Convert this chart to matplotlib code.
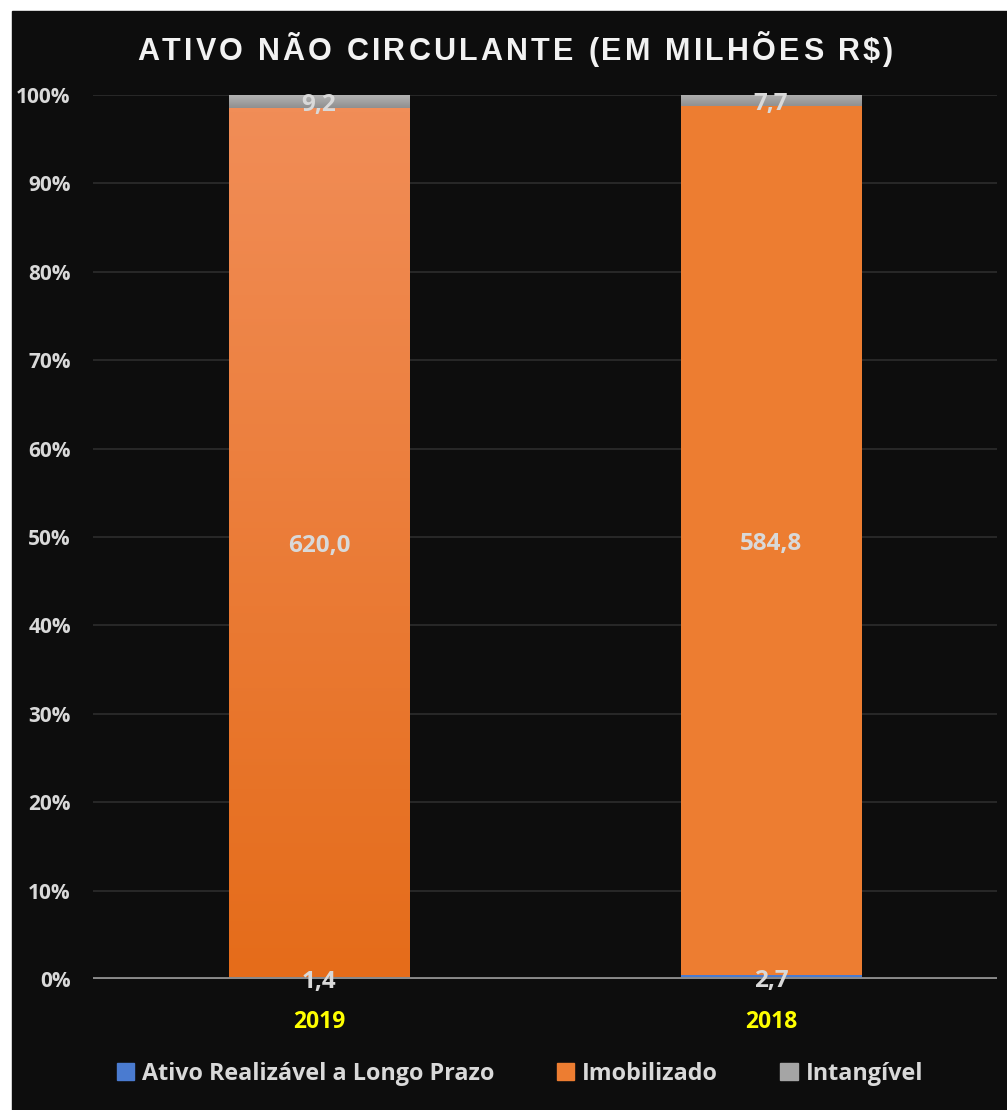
import matplotlib
matplotlib.use("Agg")
import matplotlib.pyplot as plt
import numpy as np
from matplotlib.colors import LinearSegmentedColormap
from matplotlib.patches import Rectangle
from matplotlib.ticker import PercentFormatter

# data (R$ milhões)
years = ["2019", "2018"]
series = ["Ativo Realizável a Longo Prazo", "Imobilizado", "Intangível"]
realizavel = [1.4, 2.7]
imobilizado = [620.0, 584.8]
intangivel = [9.2, 7.7]
tick_pcts = [0, 10, 20, 30, 40, 50, 60, 70, 80, 90, 100]
title = "ATIVO NÃO CIRCULANTE (EM MILHÕES R$)"

BG = "#0d0d0d"
LABEL = "#d9d9d9"
colors = ["#4a7bd0", "#ed7d31", "#a5a5a5"]
# 2019 bars are drawn with a vertical gradient (bottom, top)
grad_2019 = [("#3f6cc0", "#6f95d8"), ("#e56c1a", "#f18d57"), ("#8f8f8f", "#b3b3b3")]
grad_2018 = [("#4a7bd0", "#4a7bd0"), ("#ed7d31", "#ed7d31"), ("#909090", "#b0b0b0")]

fig = plt.figure(figsize=(10.07, 11.10), dpi=100, facecolor="white")
fig.patches.append(Rectangle((12 / 1007, 0), 1, 1 - 11 / 1110,
                             transform=fig.transFigure, color=BG, zorder=-10))

ax = fig.add_axes([93 / 1007, 1 - 979 / 1110, 904 / 1007, 884 / 1110])
ax.set_facecolor(BG)

data = np.array([realizavel, imobilizado, intangivel])
pct = data / data.sum(axis=0) * 100
x = np.arange(len(years))
width = 0.40

bottoms = np.zeros(len(years))
for s in range(len(series)):
    for i in range(len(years)):
        lo, hi = bottoms[i], bottoms[i] + pct[s, i]
        c0, c1 = (grad_2019 if i == 0 else grad_2018)[s]
        cmap = LinearSegmentedColormap.from_list("g", [c0, c1])
        ax.imshow(np.linspace(0, 1, 256).reshape(-1, 1), cmap=cmap,
                  origin="lower", aspect="auto", interpolation="bicubic",
                  extent=(x[i] - width / 2, x[i] + width / 2, lo, hi), zorder=2)
        val = f"{data[s, i]:.1f}".replace(".", ",")
        ax.text(x[i], (lo + hi) / 2 - 0.4, val, ha="center", va="center",
                color=LABEL, fontsize=17.5, fontweight="bold",
                family="Open Sans", zorder=4)
    bottoms += pct[s]

ax.set_xlim(-0.5, 1.5)
ax.set_ylim(0, 100)
ax.set_yticks(tick_pcts)
ax.yaxis.set_major_formatter(PercentFormatter(decimals=0))
ax.grid(axis="y", color="#2a2a2a", linewidth=1.3, zorder=0)
ax.axhline(0, color="#8a8a8a", linewidth=2.8, zorder=3)
ax.set_axisbelow(True)
for sp in ax.spines.values():
    sp.set_visible(False)
ax.tick_params(axis="y", length=0, pad=16, colors=LABEL, labelsize=15)
ax.tick_params(axis="x", length=0, pad=22)
for t in ax.get_yticklabels():
    t.set_fontweight("bold")
    t.set_family("Open Sans")
ax.set_xticks(x)
ax.set_xticklabels(years, color="#ffff00", fontsize=16.5, fontweight="bold",
                   family="Open Sans")

# title with letter spacing: place each character by hand
renderer = fig.canvas.get_renderer()
tkw = dict(color="#f2f2f2", fontsize=22, fontweight="bold",
           family="Liberation Sans", va="center", ha="left")
track = 3.2  # extra px between letters
widths = []
for ch in title:
    t = fig.text(0, 0, ch if ch != " " else "i", **tkw)
    widths.append(t.get_window_extent(renderer).width)
    t.remove()
total = sum(widths) + track * (len(title) - 1)
xpos = 515 - total / 2
ypos = 1 - 52 / 1110
for ch, w in zip(title, widths):
    if ch != " ":
        fig.text(xpos / 1007, ypos, ch, **tkw)
    xpos += w + track

handles = [Rectangle((0, 0), 1, 1, color=c) for c in colors]
leg = fig.legend(handles, series, loc="center", bbox_to_anchor=(520 / 1007, 1 - 1074 / 1110),
                 ncol=3, frameon=False, handlelength=0.75, handleheight=0.75,
                 handletextpad=0.35, columnspacing=2.65,
                 prop={"family": "Open Sans", "weight": "bold", "size": 16.8})
for t in leg.get_texts():
    t.set_color(LABEL)

fig.savefig("out.png", dpi=100, facecolor="white")
